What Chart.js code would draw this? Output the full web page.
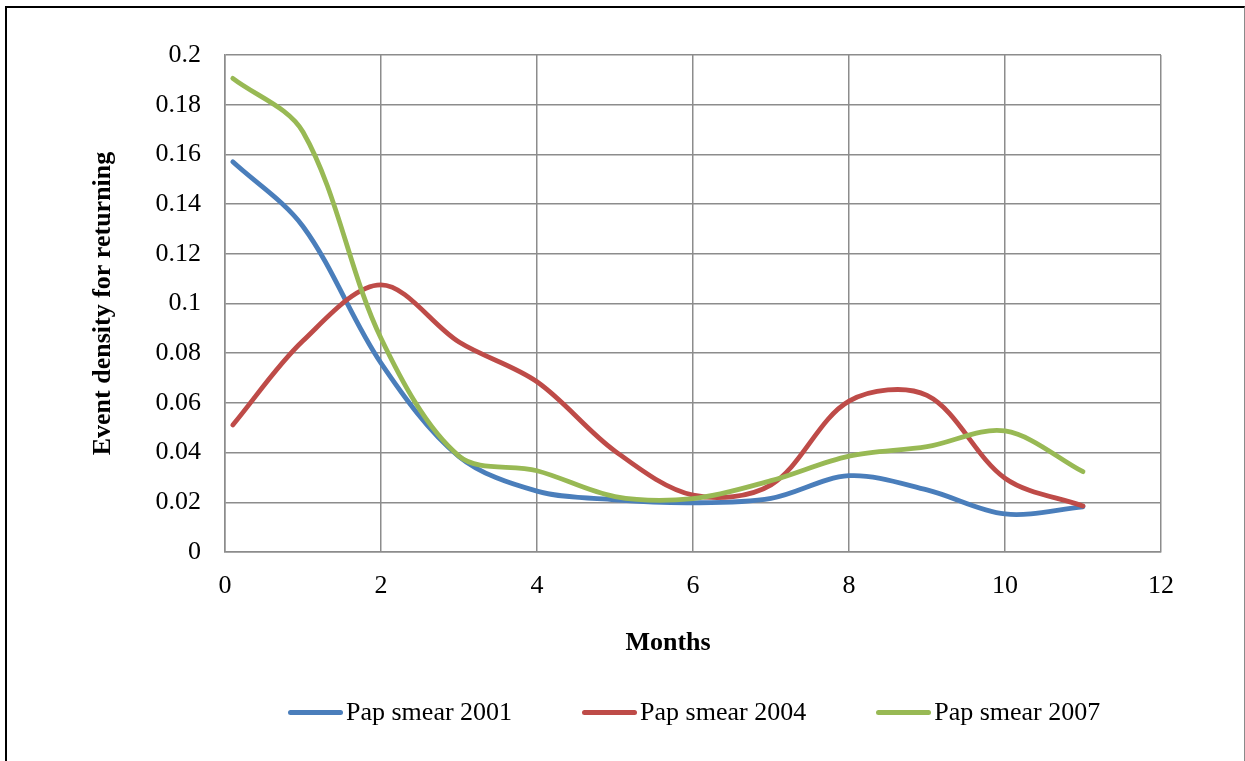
<!DOCTYPE html>
<html>
<head>
<meta charset="utf-8">
<script src="https://cdn.jsdelivr.net/npm/chart.js@4/dist/chart.umd.min.js"></script>
<style>
  html, body { margin: 0; padding: 0; background: #fff; }
  #wrap { position: relative; width: 1245px; height: 761px; overflow: hidden; }
  #frame {
    position: absolute; left: 5px; top: 6px; width: 1237px; height: 800px;
    border-left: 2px solid #000; border-top: 2px solid #000; border-right: 1px solid #8a8a8a;
    pointer-events: none;
  }
  #chart { position: absolute; left: 0; top: 0; width: 1245px; height: 761px; }
  .txt { font-family: "Liberation Serif", "Times New Roman", serif; font-size: 26px; color: #000; white-space: nowrap; }
  #xtitle {
    position: absolute; left: 568px; width: 200px; top: 626px; line-height: 32px;
    text-align: center; font-weight: bold;
  }
  #legend {
    position: absolute; left: 288px; top: 696px; display: flex; align-items: center; gap: 70px;
    line-height: 32px;
  }
  #legend .item { display: flex; align-items: center; }
  #legend .swatch { width: 55px; height: 5px; border-radius: 3px; margin-right: 3px; }
</style>
</head>
<body>
<div id="wrap">
  <div id="chart"><canvas id="c"></canvas></div>
  <div id="frame"></div>
  <div id="xtitle" class="txt">Months</div>
  <div id="legend" class="txt"></div>
</div>
<script>
// Months at which the event density was estimated
const months = [0.1, 1, 2, 3, 4, 5, 6, 7, 8, 9, 10, 11];

// Event density for returning, by cohort
const pap2001 = [0.157, 0.131, 0.076, 0.0384, 0.0245, 0.021, 0.0198, 0.0216, 0.0307, 0.025, 0.0153, 0.0182];
const pap2004 = [0.0511, 0.085, 0.1075, 0.0845, 0.0685, 0.0406, 0.0229, 0.027, 0.0607, 0.063, 0.0297, 0.0185];
const pap2007 = [0.1906, 0.169, 0.086, 0.0386, 0.0327, 0.0223, 0.0215, 0.0287, 0.0386, 0.0424, 0.0487, 0.0323];

const seriesNames = ['Pap smear 2001', 'Pap smear 2004', 'Pap smear 2007'];
const seriesColors = ['#4a7ebb', '#be4b48', '#98b954'];

// Axis tick labels
const yTickLabels = ['0', '0.02', '0.04', '0.06', '0.08', '0.1', '0.12', '0.14', '0.16', '0.18', '0.2'];
const xTickLabels = ['0', '2', '4', '6', '8', '10', '12'];

const FONT = '"Liberation Serif", "Times New Roman", serif';
const GRID = '#8c8c8c';

const toPoints = vals => vals.map((v, i) => ({ x: months[i], y: v }));
const seriesValues = [pap2001, pap2004, pap2007];

const datasets = seriesValues.map((vals, i) => ({
  label: seriesNames[i],
  data: toPoints(vals),
  borderColor: seriesColors[i],
  backgroundColor: seriesColors[i],
  borderWidth: 4.8,
  borderCapStyle: 'round',
  borderJoinStyle: 'round',
  pointRadius: 0,
  pointHoverRadius: 0,
  tension: 0.33,
  fill: false,
  order: 3 - i
}));

new Chart(document.getElementById('c'), {
  type: 'line',
  data: { datasets },
  options: {
    responsive: true,
    maintainAspectRatio: false,
    animation: false,
    events: [],
    layout: { padding: { top: 55, right: 84, bottom: 99, left: 0 } },
    plugins: { legend: { display: false }, tooltip: { enabled: false } },
    scales: {
      x: {
        type: 'linear',
        min: 0, max: 12,
        afterFit: s => { s.height = 110; },
        afterBuildTicks: s => { s.ticks = xTickLabels.map(t => ({ value: Number(t) })); },
        ticks: {
          padding: 19, color: '#000',
          font: { family: FONT, size: 26 },
          callback: (v, i) => xTickLabels[i]
        },
        grid: { color: GRID, lineWidth: 1.5, drawTicks: false },
        border: { color: GRID, width: 1.5 }
      },
      y: {
        min: 0, max: 0.2,
        afterFit: s => { s.width = 225; },
        afterBuildTicks: s => { s.ticks = yTickLabels.map(t => ({ value: Number(t) })); },
        ticks: {
          padding: 24, color: '#000',
          font: { family: FONT, size: 26 },
          callback: (v, i) => yTickLabels[i]
        },
        grid: { color: GRID, lineWidth: 1.5, drawTicks: false },
        border: { color: GRID, width: 1.5 },
        title: {
          display: true, text: 'Event density for returning', color: '#000',
          font: { family: FONT, size: 26, weight: 'bold' },
          padding: { top: 88, bottom: 0 }
        }
      }
    }
  }
});

// Legend row built from the series names and colours
const legend = document.getElementById('legend');
seriesNames.forEach((name, i) => {
  const item = document.createElement('div');
  item.className = 'item';
  const sw = document.createElement('span');
  sw.className = 'swatch';
  sw.style.background = seriesColors[i];
  const tx = document.createElement('span');
  tx.textContent = name;
  item.appendChild(sw);
  item.appendChild(tx);
  legend.appendChild(item);
});
</script>
</body>
</html>
